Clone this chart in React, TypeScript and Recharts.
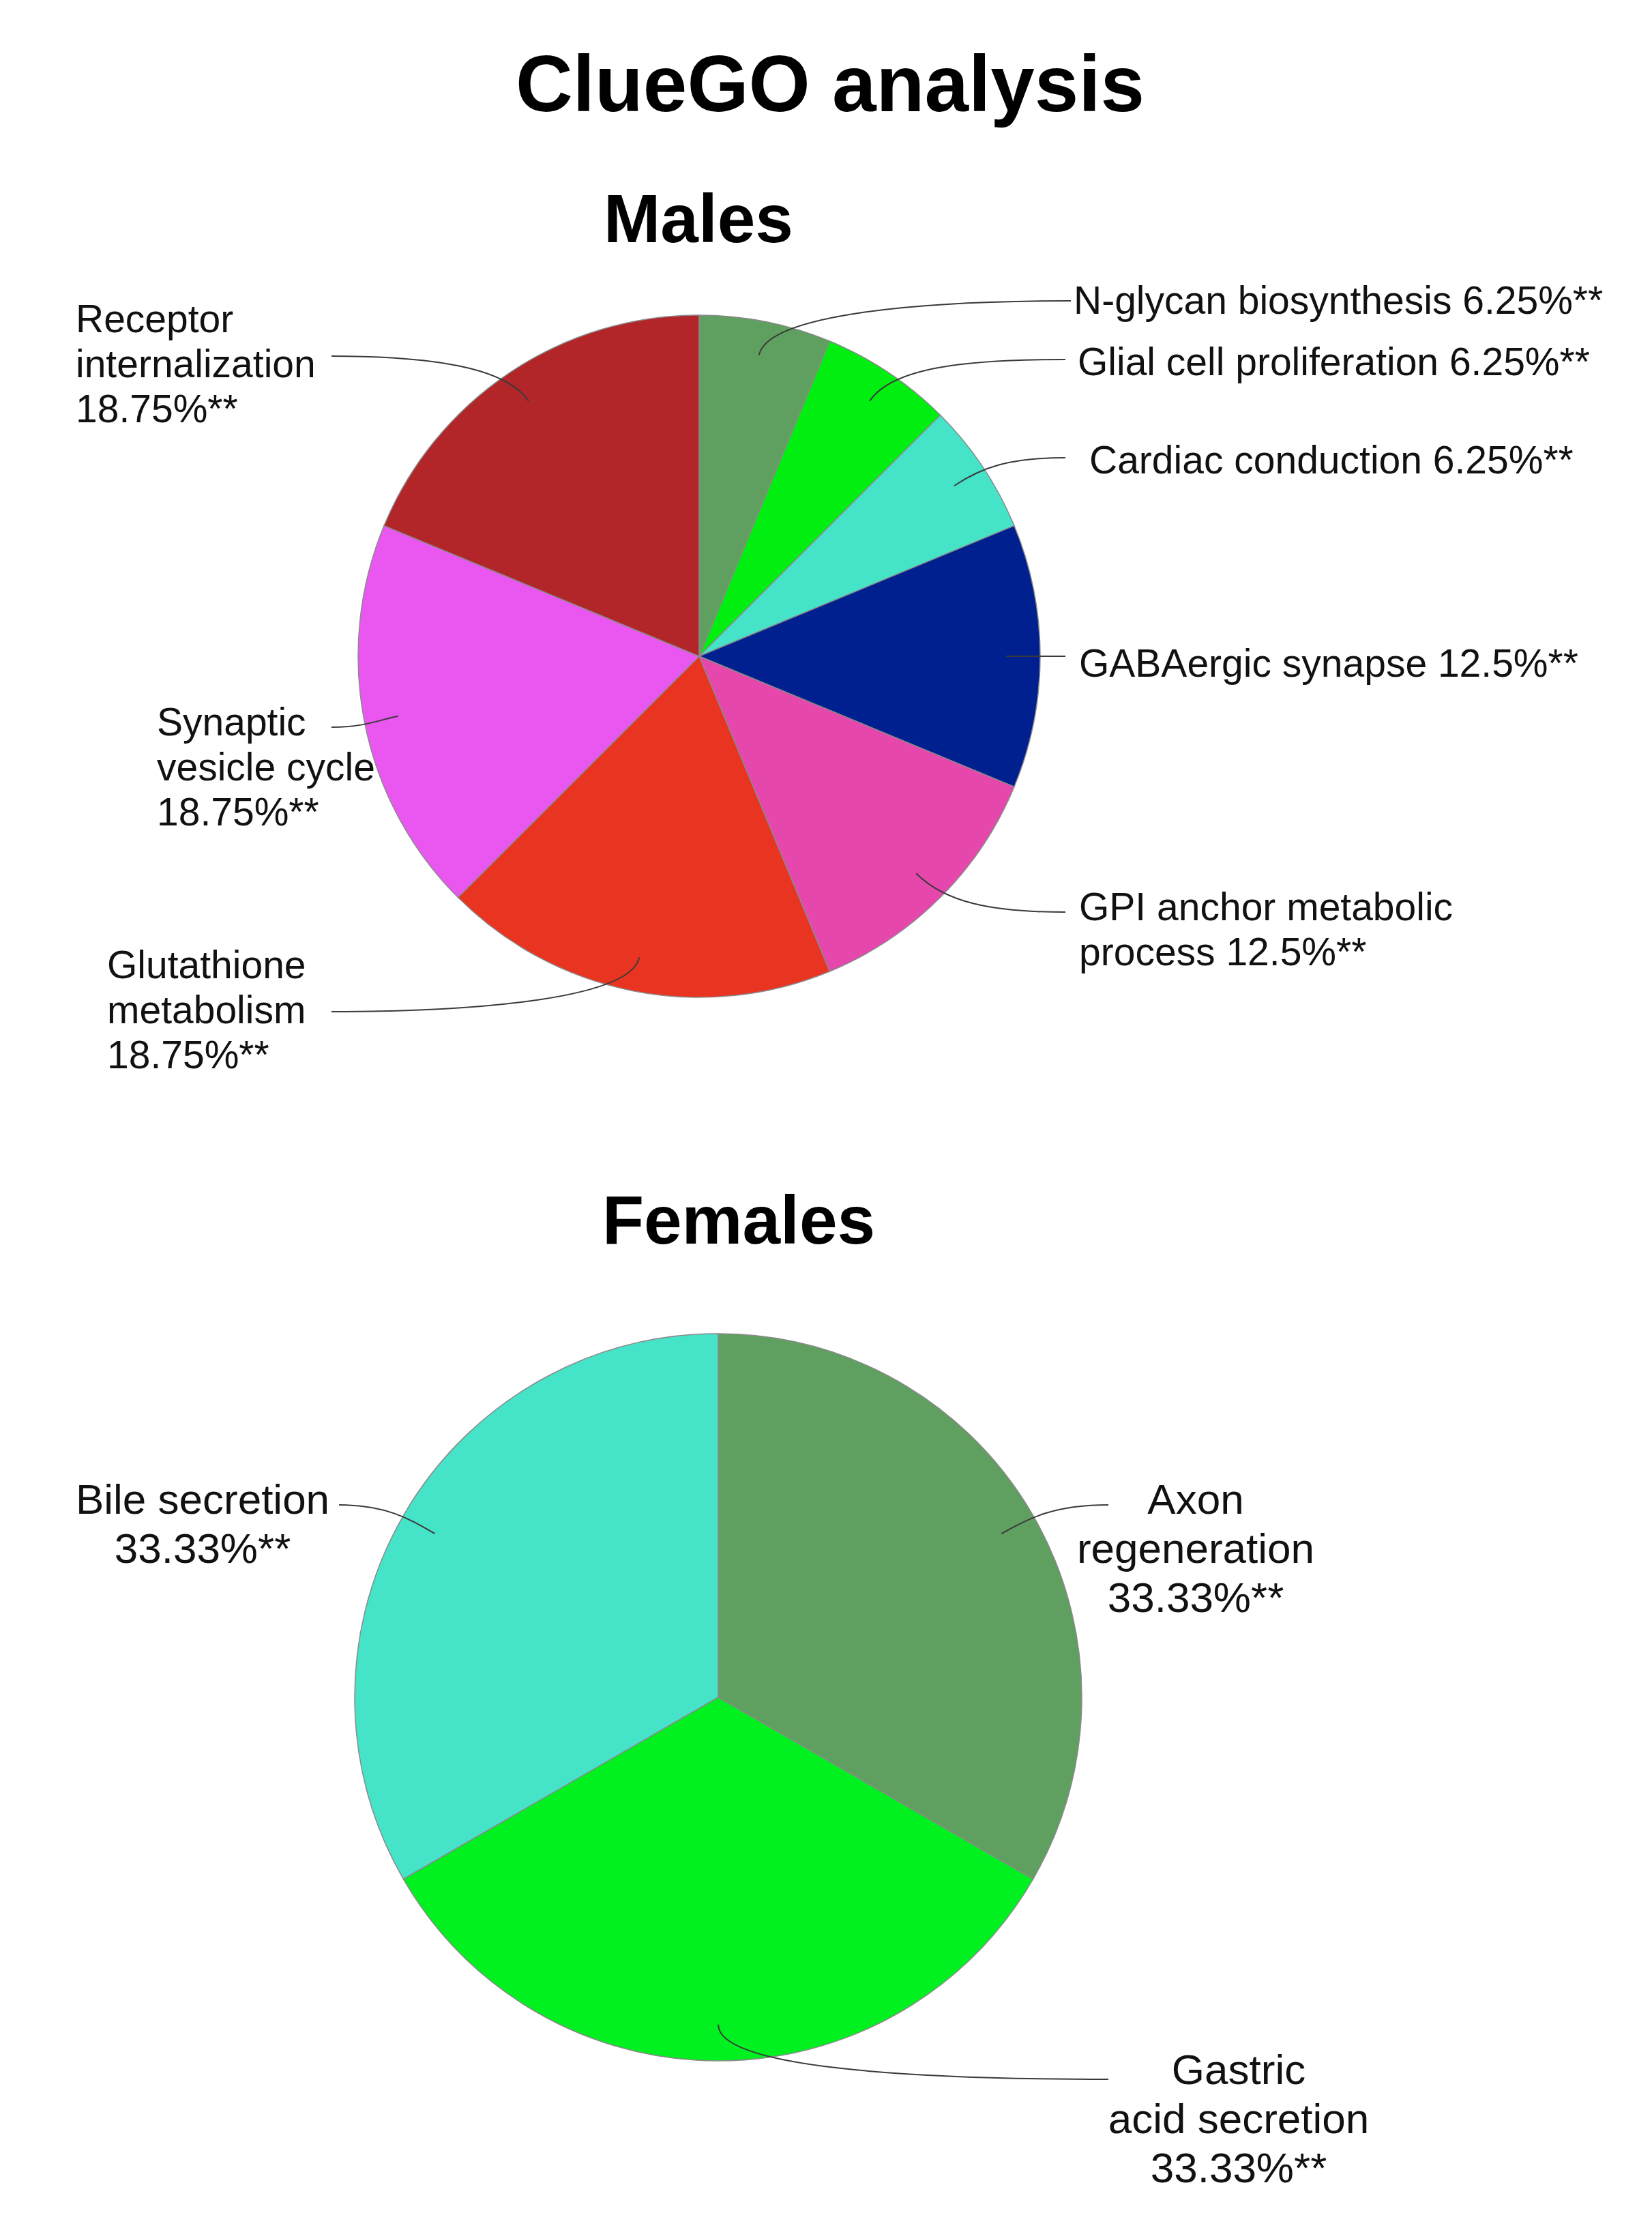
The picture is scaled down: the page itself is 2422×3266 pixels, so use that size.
import React from 'react';
import { PieChart, Pie, Cell } from 'recharts';

// ---------- data ----------
const maleCategories = [
  'N-glycan biosynthesis',
  'Glial cell proliferation',
  'Cardiac conduction',
  'GABAergic synapse',
  'GPI anchor metabolic process',
  'Glutathione metabolism',
  'Synaptic vesicle cycle',
  'Receptor internalization',
];
const maleValues = [6.25, 6.25, 6.25, 12.5, 12.5, 18.75, 18.75, 18.75];
const maleColors = ['#5F9F5F', '#00EE10', '#45E3C8', '#00208F', '#E647AC', '#E83420', '#EA57F0', '#B2262A'];
// label line breaks (%v = value with significance marks)
const maleLabelLines = [
  ['N-glycan biosynthesis %v'],
  ['Glial cell proliferation %v'],
  ['Cardiac conduction %v'],
  ['GABAergic synapse %v'],
  ['GPI anchor metabolic', 'process %v'],
  ['Glutathione', 'metabolism', '%v'],
  ['Synaptic', 'vesicle cycle', '%v'],
  ['Receptor', 'internalization', '%v'],
];

const femaleCategories = ['Axon regeneration', 'Gastric acid secretion', 'Bile secretion'];
const femaleValues = [33.33, 33.33, 33.33];
const femaleColors = ['#5F9F5F', '#00F020', '#45E3C8'];
const femaleLabelLines = [
  ['Axon', 'regeneration', '%v'],
  ['Gastric', 'acid secretion', '%v'],
  ['Bile secretion', '%v'],
];

const mark = '**';

// ---------- layout ----------
const FONT = "'Liberation Sans', Arial, Helvetica, sans-serif";
const W = 2422;
const H = 3266;

const malePie = { cx: 1025, cy: 962, r: 500, fontSize: 57, lineHeight: 66 };
const femalePie = { cx: 1053, cy: 2488, r: 533, fontSize: 62, lineHeight: 72 };

const maleLabelLayout = [
  { tx: 1574, ty: 460, anchor: 'start', ex: 1570, ey: 441 },
  { tx: 1580, ty: 550, anchor: 'start', ex: 1562, ey: 527 },
  { tx: 1597, ty: 694, anchor: 'start', ex: 1562, ey: 671 },
  { tx: 1582, ty: 992, anchor: 'start', ex: 1562, ey: 962 },
  { tx: 1582, ty: 1349, anchor: 'start', ex: 1562, ey: 1337 },
  { tx: 157, ty: 1434, anchor: 'start', ex: 486, ey: 1483 },
  { tx: 230, ty: 1078, anchor: 'start', ex: 486, ey: 1066 },
  { tx: 111, ty: 487, anchor: 'start', ex: 486, ey: 522 },
];
const femaleLabelLayout = [
  { tx: 1753, ty: 2219, anchor: 'middle', ex: 1625, ey: 2206 },
  { tx: 1816, ty: 3055, anchor: 'middle', ex: 1625, ey: 3048 },
  { tx: 297, ty: 2219, anchor: 'middle', ex: 497, ey: 2206 },
];

const RADIAN = Math.PI / 180;

function makeLabel(layout: any[], lines: string[][], values: number[], fontSize: number, lineHeight: number) {
  return (props: any) => {
    const { cx, cy, midAngle, outerRadius, index } = props;
    const L = layout[index];
    const a = midAngle * RADIAN;
    const dx = Math.cos(a);
    const dy = -Math.sin(a);
    const x0 = cx + outerRadius * 0.9 * dx;
    const y0 = cy + outerRadius * 0.9 * dy;
    const s = L.ex > x0 ? 1 : -1;
    const dist = Math.abs(L.ex - x0);
    const k1 = Math.min(outerRadius * 0.12, dist * 0.3);
    const x1 = x0 + dx * k1;
    const y1 = y0 + dy * k1;
    const x2 = L.ex - s * dist * 0.5;
    const y2 = L.ey;
    const d = `M${x0},${y0} C${x1},${y1} ${x2},${y2} ${L.ex},${L.ey}`;
    const valText = `${values[index]}%${mark}`;
    return (
      <g key={`lbl-${index}`}>
        <path d={d} fill="none" stroke="#3a3a3a" strokeWidth={2} />
        <text
          x={L.tx}
          y={L.ty}
          textAnchor={L.anchor}
          fontFamily={FONT}
          fontSize={fontSize}
          fill="#111"
        >
          {lines[index].map((ln, i) => (
            <tspan key={i} x={L.tx} y={L.ty + i * lineHeight}>
              {ln.replace('%v', valText)}
            </tspan>
          ))}
        </text>
      </g>
    );
  };
}

const maleData = maleCategories.map((name, i) => ({ name, value: maleValues[i] }));
const femaleData = femaleCategories.map((name, i) => ({ name, value: femaleValues[i] }));

export default function App() {
  return (
    <div style={{ position: 'absolute', left: 0, top: 0, width: W, height: H, background: '#fff' }}>
      <PieChart width={W} height={H} margin={{ top: 0, right: 0, bottom: 0, left: 0 }}>
        <Pie
          data={maleData}
          dataKey="value"
          nameKey="name"
          cx={malePie.cx}
          cy={malePie.cy}
          outerRadius={malePie.r}
          startAngle={90}
          endAngle={-270}
          isAnimationActive={false}
          labelLine={false}
          label={makeLabel(maleLabelLayout, maleLabelLines, maleValues, malePie.fontSize, malePie.lineHeight)}
        >
          {maleData.map((d, i) => (
            <Cell key={d.name} fill={maleColors[i]} stroke="#8a8a8a" strokeWidth={1.5} />
          ))}
        </Pie>
        <Pie
          data={femaleData}
          dataKey="value"
          nameKey="name"
          cx={femalePie.cx}
          cy={femalePie.cy}
          outerRadius={femalePie.r}
          startAngle={90}
          endAngle={-270}
          isAnimationActive={false}
          labelLine={false}
          label={makeLabel(femaleLabelLayout, femaleLabelLines, femaleValues, femalePie.fontSize, femalePie.lineHeight)}
        >
          {femaleData.map((d, i) => (
            <Cell key={d.name} fill={femaleColors[i]} stroke="#8a8a8a" strokeWidth={1.5} />
          ))}
        </Pie>
      </PieChart>
      <svg
        width={W}
        height={H}
        style={{ position: 'absolute', left: 0, top: 0, pointerEvents: 'none' }}
      >
        <text x={1217} y={163} textAnchor="middle" fontFamily={FONT} fontWeight="bold" fontSize={116} fill="#000">
          ClueGO analysis
        </text>
        <text x={1024} y={355} textAnchor="middle" fontFamily={FONT} fontWeight="bold" fontSize={100} fill="#000">
          Males
        </text>
        <text x={1083} y={1823} textAnchor="middle" fontFamily={FONT} fontWeight="bold" fontSize={100} fill="#000">
          Females
        </text>
      </svg>
    </div>
  );
}
